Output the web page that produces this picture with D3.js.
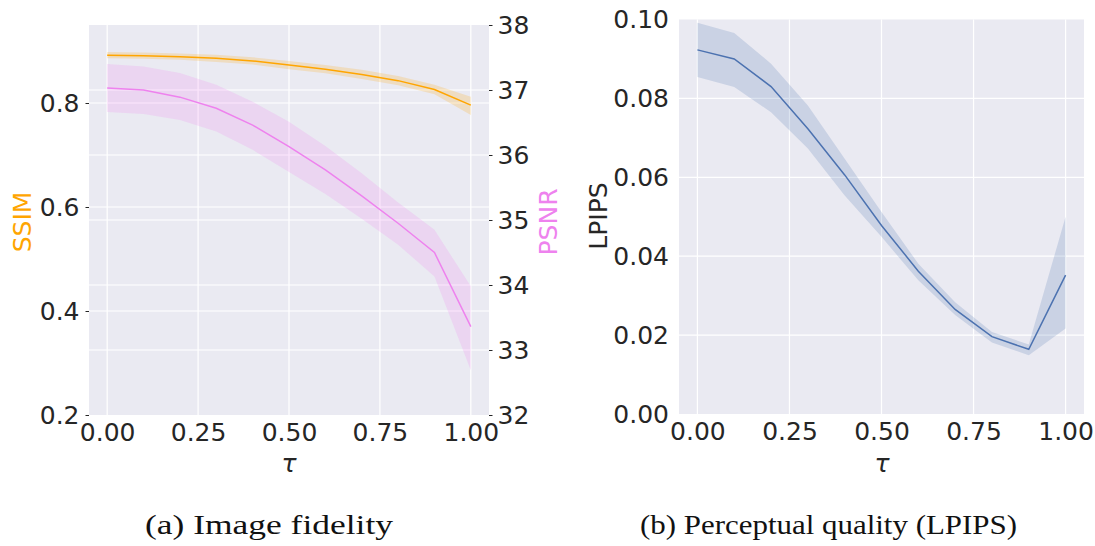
<!DOCTYPE html>
<html>
<head>
<meta charset="utf-8">
<script src="https://cdn.jsdelivr.net/npm/d3@7"></script>
<style>
  body { margin: 0; background: #fff; }
  svg { display: block; }
</style>
</head>
<body>
<svg id="chart" width="1095" height="546"></svg>
<script>
// data
const tau = [0, 0.1, 0.2, 0.3, 0.4, 0.5, 0.6, 0.7, 0.8, 0.9, 1.0];

const ssimMean = [0.892, 0.891, 0.889, 0.886, 0.881, 0.873, 0.865, 0.855, 0.843, 0.826, 0.796];
const ssimLo   = [0.886, 0.885, 0.883, 0.879, 0.874, 0.865, 0.857, 0.846, 0.834, 0.817, 0.777];
const ssimHi   = [0.898, 0.897, 0.895, 0.893, 0.888, 0.881, 0.873, 0.864, 0.852, 0.835, 0.812];

const psnrMean = [37.03, 37.00, 36.89, 36.72, 36.46, 36.13, 35.77, 35.37, 34.95, 34.50, 33.36];
const psnrLo   = [36.66, 36.63, 36.54, 36.36, 36.08, 35.74, 35.40, 35.02, 34.62, 34.13, 32.69];
const psnrHi   = [37.40, 37.36, 37.26, 37.08, 36.82, 36.51, 36.14, 35.72, 35.27, 34.85, 33.98];

const lpipsMean = [0.0923, 0.0900, 0.0830, 0.0723, 0.0606, 0.0478, 0.0362, 0.0265, 0.0196, 0.0164, 0.0352];
const lpipsLo   = [0.0854, 0.0829, 0.0765, 0.0673, 0.0554, 0.0449, 0.0339, 0.0251, 0.0181, 0.0149, 0.0217];
const lpipsHi   = [0.0992, 0.0966, 0.0888, 0.0782, 0.0647, 0.0512, 0.0381, 0.0283, 0.0208, 0.0176, 0.0500];

const xTicks = [0, 0.25, 0.5, 0.75, 1.0];
const ssimTicks = [0.2, 0.4, 0.6, 0.8];
const psnrTicks = [32, 33, 34, 35, 36, 37, 38];
const lpipsTicks = [0, 0.02, 0.04, 0.06, 0.08, 0.10];
const captions = ['(a) Image fidelity', '(b) Perceptual quality (LPIPS)'];

const FONT = 'DejaVu Sans, sans-serif', TXT = '#262626', BG = '#eaeaf2';

const svg = d3.select('#chart');

// scales
const x1 = d3.scaleLinear().domain([-0.05, 1.05]).range([89, 489]),
      ySsim = d3.scaleLinear().domain([0.2, 0.95]).range([415, 25]),
      yPsnr = d3.scaleLinear().domain([32, 38]).range([415, 25]);
const x2 = d3.scaleLinear().domain([-0.05, 1.05]).range([679, 1084]),
      yLp = d3.scaleLinear().domain([0, 0.1]).range([414, 19.5]);

const idx = d3.range(tau.length);

function panelBg(x, y){
  svg.append('rect')
     .attr('x', x.range()[0]).attr('y', y.range()[1])
     .attr('width', x.range()[1] - x.range()[0])
     .attr('height', y.range()[0] - y.range()[1])
     .attr('fill', BG);
}

function hGrid(x, y, ticks){
  svg.append('g').selectAll('line').data(ticks).enter().append('line')
     .attr('x1', x.range()[0]).attr('x2', x.range()[1])
     .attr('y1', d => y(d)).attr('y2', d => y(d))
     .attr('stroke', '#fff').attr('stroke-width', 1.2);
}

function vGrid(x, y, ticks){
  svg.append('g').selectAll('line').data(ticks).enter().append('line')
     .attr('x1', d => x(d)).attr('x2', d => x(d))
     .attr('y1', y.range()[0]).attr('y2', y.range()[1])
     .attr('stroke', '#fff').attr('stroke-width', 1.2);
}

function band(x, y, lo, hi, color){
  const area = d3.area().x(i => x(tau[i])).y0(i => y(lo[i])).y1(i => y(hi[i]));
  svg.append('path').datum(idx).attr('d', area)
     .attr('fill', color).attr('fill-opacity', 0.2).attr('stroke', 'none');
}

function line(x, y, vals, color){
  const ln = d3.line().x(i => x(tau[i])).y(i => y(vals[i]));
  svg.append('path').datum(idx).attr('d', ln)
     .attr('fill', 'none').attr('stroke', color).attr('stroke-width', 1.5);
}

function styleAxis(g){
  g.attr('font-size', 25).attr('font-family', FONT);
  g.select('.domain').remove();
  g.selectAll('text').attr('fill', TXT);
  g.selectAll('line').attr('stroke', TXT).attr('stroke-width', 1);
}

function yLabel(txt, x, y, color){
  svg.append('text').text(txt)
     .attr('transform', `translate(${x},${y}) rotate(-90)`)
     .attr('text-anchor', 'middle').attr('dominant-baseline', 'central')
     .attr('font-family', FONT).attr('font-size', 25).attr('fill', color);
}

// ---- panel (a)
panelBg(x1, ySsim);
vGrid(x1, ySsim, xTicks);
hGrid(x1, ySsim, ssimTicks.filter(d => d > 0.2));
hGrid(x1, yPsnr, psnrTicks.filter(d => d > 32 && d < 38));

band(x1, ySsim, ssimLo, ssimHi, 'orange');
line(x1, ySsim, ssimMean, 'orange');
band(x1, yPsnr, psnrLo, psnrHi, 'violet');
line(x1, yPsnr, psnrMean, 'violet');

svg.append('g').attr('transform', 'translate(0,415)')
   .call(d3.axisBottom(x1).tickValues(xTicks).tickFormat(d3.format('.2f')).tickSize(0).tickPadding(8))
   .call(styleAxis);
svg.append('g').attr('transform', 'translate(89,0)')
   .call(d3.axisLeft(ySsim).tickValues(ssimTicks).tickFormat(d3.format('.1f')).tickSize(3.5).tickPadding(6))
   .call(styleAxis);
svg.append('g').attr('transform', 'translate(489,0)')
   .call(d3.axisRight(yPsnr).tickValues(psnrTicks).tickFormat(d3.format('d')).tickSize(3.5).tickPadding(5))
   .call(styleAxis);

yLabel('SSIM', 22, 222, 'orange');
yLabel('PSNR', 548, 222, 'violet');

// ---- panel (b)
panelBg(x2, yLp);
vGrid(x2, yLp, xTicks);
hGrid(x2, yLp, lpipsTicks.filter(d => d > 0 && d < 0.1));

band(x2, yLp, lpipsLo, lpipsHi, '#4c72b0');
line(x2, yLp, lpipsMean, '#4c72b0');

svg.append('g').attr('transform', 'translate(0,414)')
   .call(d3.axisBottom(x2).tickValues(xTicks).tickFormat(d3.format('.2f')).tickSize(0).tickPadding(8))
   .call(styleAxis);
svg.append('g').attr('transform', 'translate(679,0)')
   .call(d3.axisLeft(yLp).tickValues(lpipsTicks).tickFormat(d3.format('.2f')).tickSize(0).tickPadding(10))
   .call(styleAxis);

yLabel('LPIPS', 598, 216, TXT);

// x labels (tau)
[[x1, 289], [x2, 882]].forEach(([x, cx]) => {
  svg.append('text').text('τ')
     .attr('x', cx).attr('y', 472)
     .attr('text-anchor', 'middle')
     .attr('font-family', FONT).attr('font-style', 'italic')
     .attr('font-size', 25).attr('fill', TXT);
});

// captions (computer-modern is wider than Times, so stretch a bit)
const capX = [269, 828.5], capW = [248, 377];
svg.selectAll('.cap').data(captions).enter().append('text')
   .attr('class', 'cap')
   .attr('x', (d, i) => capX[i]).attr('y', 534)
   .attr('text-anchor', 'middle')
   .attr('font-family', 'Liberation Serif, serif').attr('font-size', 28)
   .attr('textLength', (d, i) => capW[i]).attr('lengthAdjust', 'spacingAndGlyphs')
   .attr('fill', '#111')
   .text(d => d);
</script>
</body>
</html>
